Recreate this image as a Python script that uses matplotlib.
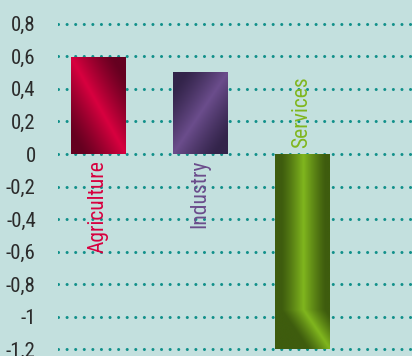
import numpy as np
import matplotlib
matplotlib.use("Agg")
import matplotlib.pyplot as plt
from matplotlib import font_manager

sectors = ["Agriculture", "Industry", "Services"]
values = [0.595, 0.503, -1.2]
bright = ["#d8003f", "#6b4d8c", "#80b61e"]
dark = ["#650020", "#33244a", "#3e5c0e"]
yticks = [-1.2, -1.0, -0.8, -0.6, -0.4, -0.2, 0, 0.2, 0.4, 0.6, 0.8]

names = {f.name for f in font_manager.fontManager.ttflist}
narrow = [n for n in ["Liberation Sans Narrow", "Roboto Condensed", "DejaVu Sans Condensed"]
          if n in names]
plt.rcParams['font.family'] = narrow[:1] + ['DejaVu Sans']
bg = "#c3e0de"

fig = plt.figure(figsize=(4.12, 3.56), dpi=100, facecolor=bg)
ax = fig.add_axes([0.1408, 0.0, 0.8592, 0.970])
ax.set_facecolor(bg)

x = np.arange(len(sectors))
bars = ax.bar(x, values, width=0.53, color=dark, zorder=2)


def shade(kind, n=200):
    s, t = np.meshgrid(np.linspace(0, 1, n), np.linspace(0, 1, n))  # t goes downward
    if kind == 0:
        d = np.abs(s - t)
    elif kind == 1:
        d = np.abs(s + t - 1.0)
    else:
        # bright vertical band that bends toward the lower right corner
        c = 0.52 + np.clip((t - 0.8) / 0.2, 0, 1) * 0.48
        d = np.abs(s - c) * 1.9
    return np.clip(1 - d * 1.3, 0, 1) ** 1.2


for i, b in enumerate(bars):
    c1 = np.array(matplotlib.colors.to_rgb(bright[i]))
    c0 = np.array(matplotlib.colors.to_rgb(dark[i]))
    k = shade(i)[..., None]
    img = c0 + (c1 - c0) * k
    x0, y0 = b.get_x(), b.get_y()
    x1, y1 = x0 + b.get_width(), y0 + b.get_height()
    im = ax.imshow(img, extent=(x0, x1, min(y0, y1), max(y0, y1)),
                   origin="upper", aspect="auto", zorder=3)
    im.set_clip_path(b)

# category labels next to the zero line
for i, (name, v) in enumerate(zip(sectors, values)):
    if v >= 0:
        ax.text(x[i], -0.035, name, rotation=90, ha="center", va="top",
                color=bright[i], fontsize=15.5)
    else:
        ax.text(x[i], 0.04, name, rotation=90, ha="center", va="bottom",
                color=bright[i], fontsize=15.5)

ax.set_xlim(-0.39, 3.08)
ax.set_ylim(-1.24, 0.88)
ax.set_yticks(yticks)
ax.set_yticklabels([("%g" % v).replace(".", ",") for v in yticks])
ax.set_xticks([])
ax.tick_params(axis="y", length=0, pad=16, labelsize=15, labelcolor="#2b2b2b")
for sp in ax.spines.values():
    sp.set_visible(False)

ax.set_axisbelow(True)
ax.yaxis.grid(True, color="#11908a", linewidth=2.2, linestyle=(0, (0.01, 2.8)),
              dash_capstyle="round")

fig.savefig("out.png", dpi=100, facecolor=bg)
